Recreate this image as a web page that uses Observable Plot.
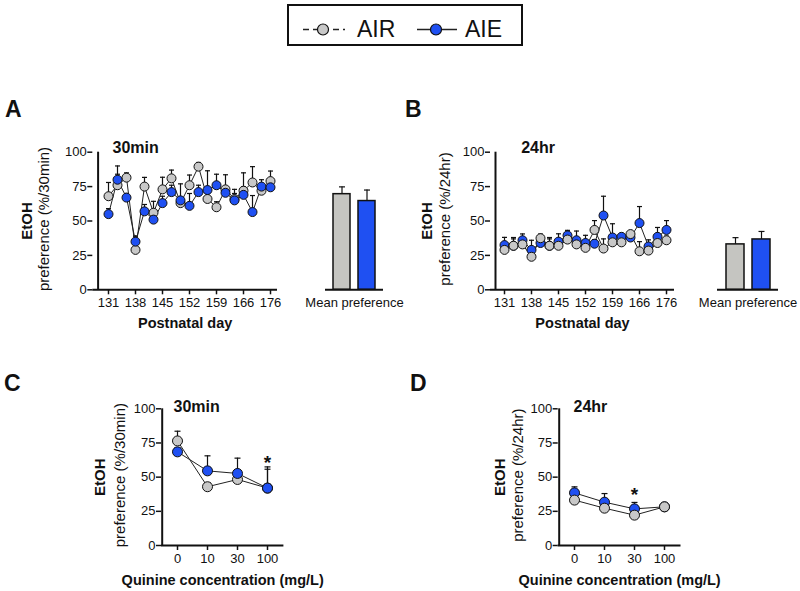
<!DOCTYPE html>
<html><head><meta charset="utf-8">
<script src="https://cdn.jsdelivr.net/npm/d3@7"></script>
<script src="https://cdn.jsdelivr.net/npm/@observablehq/plot@0.6"></script>
<style>
body{margin:0;background:#fff;}
#root{position:relative;width:800px;height:591px;overflow:hidden;font-family:"Liberation Sans",Arial,Helvetica,sans-serif;color:#111;}
.letter{position:absolute;font-weight:bold;font-size:23px;line-height:23px;}
</style></head><body><div id="root"></div>
<script>
// ---- data ----
const days = [131,133,136,138,140,143,145,147,150,152,154,157,159,161,164,166,169,173,176];
const dayTicks = [131,138,145,152,159,166,176];
const air30 = [68,76,81.5,29,75,56,73,81,63,76,89.5,66,60,73,66,72,78,72,79];
const airErr30 = [10,8,3.5,10,6.7,8.3,8.8,6,4,7.4,3,5,4,10.6,7,13,11.5,4,7.3];
const aie30 = [55,80,67,35,57,51,63,71,65,61,71,72.5,76,70.5,65,69,56.5,75,74.5];
const aieErr30 = [4,10,3,4,5,4,5,5,12,9,5,14,8,4,5,6,12,5,4];
const air24 = [29,32,33,24,37.5,32,32,36.5,33,30.5,43.5,30,34.5,34.5,40.5,28,28.5,34,36];
const airErr24 = [4,5,4,5,3,6,4,3,4,4,6.8,7,4,3,2,7,4,3,3];
const aie24 = [32.5,32,36,29,34,32,35,39.5,36,34,33.5,54,38,38.5,38,48.5,31.5,38.5,43.5];
const aieErr24 = [5.6,6,4.6,7,3,5,5.7,3.7,6.7,5.6,3,14,10,2,4,12,4.8,6.8,6.8];
const meanPref30 = [69.5, 64.5];
const meanErr30 = [5.3, 8];
const meanPref24 = [33, 36.6];
const meanErr24 = [4.9, 5.8];
const concs = ["0","10","30","100"];
const airQ30 = [76.5,43,48.3,42];
const airQErr30 = [7.1,3,3,15.5];
const aieQ30 = [68.5,54.6,52.7,42];
const aieQErr30 = [3,11,11.2,13.8];
const airQ24 = [33.2,27.3,22.2,28.3];
const airQErr24 = [3,3,3,2];
const aieQ24 = [38.5,31.7,26.8,28.3];
const aieQErr24 = [4.4,6.3,4.7,2.5];
const starsQ30 = [{x:"100", y:64}];
const starsQ24 = [{x:"30", y:40}];

// ---- style ----
const BLUE="#1f50f2", GRAY="#c8c8c8", BARGRAY="#c5c5c1", INK="#111";
const FONT="'Liberation Sans', Arial, Helvetica, sans-serif";
const root=document.getElementById("root");
const cap={draw(ctx,size){const w=Math.sqrt(size/Math.PI);ctx.moveTo(-w,0);ctx.lineTo(w,0);}};

function place(el,left,top){el.style.position="absolute";el.style.left=left+"px";el.style.top=top+"px";el.style.maxWidth="none";root.appendChild(el);}

function rowsOf(xs,air,airErr,aie,aieErr){
  return [...xs.map((x,i)=>({x,g:"AIR",v:air[i],e:airErr[i]})),...xs.map((x,i)=>({x,g:"AIE",v:aie[i],e:aieErr[i]}))];
}

function linePanel(o){
  const rows=rowsOf(o.xs,o.air,o.airErr,o.aie,o.aieErr);
  const under=rows.filter(d=>d.g===o.under), over=rows.filter(d=>d.g!==o.under);
  const fillOf=g=>g==="AIR"?GRAY:BLUE;
  return Plot.plot({
    width:o.width,height:o.height,marginLeft:o.mL,marginRight:o.mR,marginTop:o.mT,marginBottom:o.mB,
    style:{fontFamily:FONT,fontSize:"13px",color:INK,background:"transparent",overflow:"visible"},
    x:{type:"point",domain:o.xs,padding:0,insetLeft:o.iL,insetRight:o.iR},
    y:{domain:[0,100]},
    marks:[
      Plot.ruleY([0],{stroke:INK,strokeWidth:2}),
      Plot.ruleX([o.xs[0]],{dx:-o.iL,stroke:INK,strokeWidth:2}),
      Plot.axisY({ticks:[0,25,50,75,100],tickSize:5,tickPadding:1,strokeWidth:1.5,fontSize:13,label:null}),
      Plot.axisX({ticks:o.ticks,tickSize:5,tickPadding:3,strokeWidth:1.5,fontSize:13,label:null}),
      Plot.ruleX(rows,{x:"x",y1:"v",y2:d=>d.v+d.e,stroke:INK,strokeWidth:1.2}),
      Plot.dot(rows,{x:"x",y:d=>d.v+d.e,symbol:cap,r:o.capR,stroke:INK,strokeWidth:1.2}),
      Plot.line(rows,{x:"x",y:"v",z:"g",stroke:"#222",strokeWidth:1}),
      Plot.dot(under,{x:"x",y:"v",r:o.r,fill:fillOf(o.under),stroke:INK,strokeWidth:1}),
      Plot.dot(over,{x:"x",y:"v",r:o.r,fill:fillOf(o.under==="AIR"?"AIE":"AIR"),stroke:INK,strokeWidth:1}),
      Plot.text([o.title],{frameAnchor:"top-left",dx:o.titleDx,dy:o.titleDy,textAnchor:"start",lineAnchor:"middle",fontWeight:"bold",fontSize:16}),
      Plot.text(["EtOH"],{frameAnchor:"left",rotate:-90,dx:o.eDx,textAnchor:"middle",lineAnchor:"middle",fontWeight:"bold",fontSize:15}),
      Plot.text([o.ylab],{frameAnchor:"left",rotate:-90,dx:o.pDx,dy:-2,textAnchor:"middle",lineAnchor:"middle",fontSize:15}),
      Plot.text([o.xlab],{frameAnchor:"bottom",dy:o.xlDy,textAnchor:"middle",lineAnchor:"middle",fontWeight:"bold",fontSize:14.5}),
      Plot.text(o.stars||[],{x:"x",y:"y",text:()=>"*",dy:4.5,lineAnchor:"middle",fontSize:19,fontWeight:"bold"})
    ]
  });
}

function barPanel(o){
  const rows=[{g:"AIR",v:o.means[0],e:o.errs[0]},{g:"AIE",v:o.means[1],e:o.errs[1]}];
  return Plot.plot({
    width:o.width,height:o.height,marginLeft:o.mL,marginRight:o.mR,marginTop:o.mT,marginBottom:o.mB,
    style:{fontFamily:FONT,fontSize:"13px",color:INK,background:"transparent",overflow:"visible"},
    x:{type:"band",domain:["AIR","AIE"],paddingInner:0.32,paddingOuter:0.3,axis:null},
    y:{domain:[0,100],axis:null},
    marks:[
      Plot.ruleX(rows,{x:"g",y1:"v",y2:d=>d.v+d.e,stroke:INK,strokeWidth:1.2}),
      Plot.dot(rows,{x:"g",y:d=>d.v+d.e,symbol:cap,r:3,stroke:INK,strokeWidth:1.2}),
      Plot.barY(rows.filter(d=>d.g==="AIR"),{x:"g",y:"v",fill:BARGRAY,stroke:INK,strokeWidth:1.5}),
      Plot.barY(rows.filter(d=>d.g==="AIE"),{x:"g",y:"v",fill:BLUE,stroke:INK,strokeWidth:1.5}),
      Plot.ruleY([0],{stroke:INK,strokeWidth:2}),
      Plot.text(["Mean preference"],{frameAnchor:"bottom",dy:13,textAnchor:"middle",lineAnchor:"middle",fontSize:13})
    ]
  });
}

// Panel A
place(linePanel({xs:days,ticks:dayTicks,air:air30,airErr:airErr30,aie:aie30,aieErr:aieErr30,under:"AIR",
  width:290,height:210,mL:92.3,mR:13,mT:21.7,mB:50.7,iL:10.4,iR:1,r:4.5,capR:2.5,
  title:"30min",titleDx:19.7,titleDy:-4.7,eDx:-65.6,pDx:-49,ylab:"preference (%/30min)",xlab:"Postnatal day",xlDy:33.7}),0,130);
place(barPanel({means:meanPref30,errs:meanErr30,width:105,height:210,mL:25,mR:22,mT:21.7,mB:50.7}),300,130);
// Panel B
place(linePanel({xs:days,ticks:dayTicks,air:air24,airErr:airErr24,aie:aie24,aieErr:aieErr24,under:"AIE",
  width:290,height:210,mL:85,mR:21,mT:21.7,mB:50.7,iL:9,iR:3,r:4.5,capR:2.5,
  title:"24hr",titleDx:30.7,titleDy:-4.7,eDx:-63.3,pDx:-45,ylab:"preference (%/24hr)",xlab:"Postnatal day",xlDy:33.7}),405,130);
place(barPanel({means:meanPref24,errs:meanErr24,width:105,height:210,mL:22,mR:22,mT:21.7,mB:50.7}),695,130);
// Panel C
place(linePanel({xs:concs,ticks:concs,air:airQ30,airErr:airQErr30,aie:aieQ30,aieErr:aieQErr30,under:"AIR",stars:starsQ30,
  width:330,height:211,mL:161,mR:46.6,mT:28.3,mB:46,iL:15.3,iR:15.3,r:5,capR:3,
  title:"30min",titleDx:12,titleDy:-1.5,eDx:-61,pDx:-41.7,ylab:"preference (%/30min)",xlab:"Quinine concentration (mg/L)",xlDy:35}),0,380);
// Panel D
place(linePanel({xs:concs,ticks:concs,air:airQ24,airErr:airQErr24,aie:aieQ24,aieErr:aieQErr24,under:"AIE",stars:starsQ24,
  width:330,height:211,mL:157.7,mR:49.5,mT:28.3,mB:46,iL:15.3,iR:15.3,r:5,capR:3,
  title:"24hr",titleDx:15.3,titleDy:-1.5,eDx:-57.7,pDx:-39.7,ylab:"preference (%/24hr)",xlab:"Quinine concentration (mg/L)",xlDy:35}),400,380);

// panel letters
[["A",5,97.5],["B",405,97.5],["C",4,372],["D",410,372]].forEach(([t,l,tp])=>{
  const d=document.createElement("div");d.className="letter";d.textContent=t;d.style.left=l+"px";d.style.top=tp+"px";root.appendChild(d);
});

// legend
const NS="http://www.w3.org/2000/svg";
const lg=document.createElementNS(NS,"svg");
lg.setAttribute("width",800);lg.setAttribute("height",52);
lg.innerHTML=`
<rect x="288" y="5" width="234" height="40" fill="white" stroke="${INK}" stroke-width="2"/>
<line x1="303" x2="345" y1="29.5" y2="29.5" stroke="#222" stroke-width="1.5" stroke-dasharray="6,4"/>
<circle cx="323" cy="29.5" r="5.5" fill="${GRAY}" stroke="${INK}" stroke-width="1.2"/>
<text x="357" y="37" font-family="${FONT}" font-size="23" fill="${INK}">AIR</text>
<line x1="417" x2="457" y1="29.5" y2="29.5" stroke="#222" stroke-width="1.5"/>
<circle cx="436" cy="29.5" r="5.5" fill="${BLUE}" stroke="${INK}" stroke-width="1.2"/>
<text x="465" y="37" font-family="${FONT}" font-size="23" fill="${INK}">AIE</text>`;
place(lg,0,0);
</script></body></html>
